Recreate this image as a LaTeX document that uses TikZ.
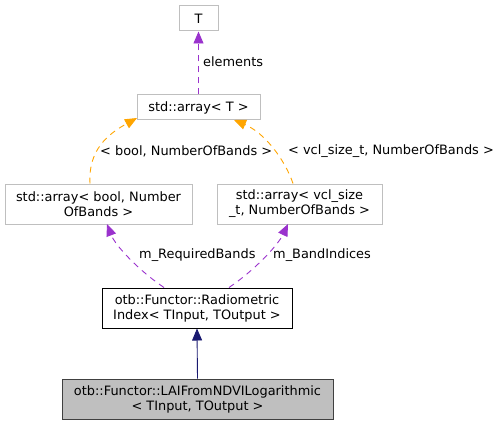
\documentclass[tikz,border=0pt]{standalone}
\usepackage{fontspec}
\setmainfont{DejaVu Sans}
\usetikzlibrary{arrows.meta}
\definecolor{edgegray}{HTML}{BFBFBF}
\definecolor{fillgray}{HTML}{BFBFBF}
\definecolor{borderdark}{HTML}{404040}
\definecolor{orangec}{HTML}{FFA500}
\definecolor{purplec}{HTML}{9A32CD}
\definecolor{navyc}{HTML}{191970}
\tikzset{
  every node/.style={font=\fontsize{12.9}{15}\selectfont, text=black},
  cls/.style={draw=edgegray, line width=1pt, rectangle, inner sep=0pt, align=center},
  main/.style={draw=black, line width=1pt, rectangle, inner sep=0pt, align=center},
  focus/.style={draw=borderdark, fill=fillgray, line width=1pt, rectangle, inner sep=0pt, align=center},
  tip/.style={-{Triangle[length=12pt,width=10pt]}},
  orangeedge/.style={tip, draw=orangec, line width=0.9pt, dash pattern=on 6pt off 5pt},
  purpleedge/.style={tip, draw=purplec, line width=0.9pt, dash pattern=on 6pt off 5pt},
  navyedge/.style={tip, draw=navyc, line width=0.9pt},
  lbl/.style={inner sep=0pt, anchor=west}
}
\begin{document}
\begin{tikzpicture}[x=1pt,y=-1pt]
\useasboundingbox (0,0) rectangle (503,425);
\node[cls, minimum width=39pt, minimum height=25pt] (T) at (198.5,18.5) {T};
\node[cls, minimum width=123pt, minimum height=25pt] (arrT) at (198.5,107.5) {std::array< T >};
\node[cls, minimum width=187pt, minimum height=40pt] (arrB) at (98.5,204) {std::array< bool, Number\\OfBands >};
\node[cls, minimum width=165pt, minimum height=40pt] (arrV) at (299.5,204) {std::array< vcl\_size\\\_t, NumberOfBands >};
\node[main, minimum width=190pt, minimum height=40pt] (rad) at (197,308) {otb::Functor::Radiometric\\Index< TInput, TOutput >};
\node[focus, minimum width=271pt, minimum height=40pt] (lai) at (197.5,399) {otb::Functor::LAIFromNDVILogarithmic\\< TInput, TOutput >};

\draw[purpleedge] (arrT.north) -- (T.south);
\node[lbl] (le) at (203,62) {elements};

\draw[orangeedge] (arrB.north -| 90,0) .. controls (88,150) and (108,134) .. (137,118);
\node[lbl] (lb) at (100,151) {< bool, NumberOfBands >};
\draw[orangeedge] (arrV.north -| 293,0) .. controls (285,160) and (265,133) .. (234,120);
\node[lbl] (lv) at (288,151) {< vcl\_size\_t, NumberOfBands >};

\draw[purpleedge] (rad.north -| 164,0) .. controls (138,270) and (115,245) .. (107,224);
\node[lbl] (lr) at (139,255) {m\_RequiredBands};
\draw[purpleedge] (rad.north -| 229,0) .. controls (255,270) and (278,245) .. (288,224);
\node[lbl] (lbi) at (273,255) {m\_BandIndices};

\draw[navyedge] (lai.north) -- (rad.south);
\end{tikzpicture}
\end{document}
